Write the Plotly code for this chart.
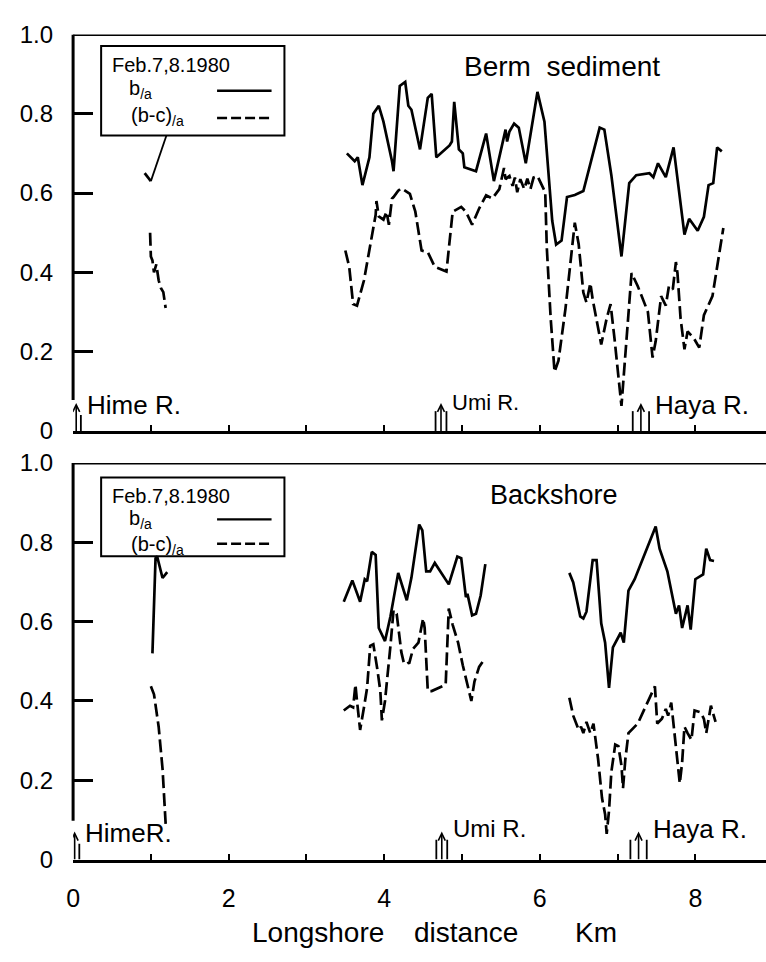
import plotly.graph_objects as go

# ---------------- data (longshore distance km, ratio) ----------------
# Berm sediment
berm_ba_x1 = [0.92, 0.96, 1.00]
berm_ba_y1 = [0.65, 0.64, 0.63]
berm_ba_x2 = [3.52, 3.57, 3.62, 3.66, 3.72, 3.81, 3.86, 3.93, 3.99, 4.10, 4.12, 4.20, 4.27, 4.31, 4.35,
              4.46, 4.56, 4.61, 4.67, 4.84, 4.87, 4.90, 4.96, 5.01, 5.03, 5.18, 5.31, 5.41, 5.56, 5.58,
              5.61, 5.67, 5.73, 5.82, 5.97, 6.06, 6.16, 6.21, 6.28, 6.35, 6.45, 6.56, 6.67, 6.77, 6.83,
              6.92, 7.05, 7.15, 7.24, 7.41, 7.46, 7.52, 7.62, 7.72, 7.86, 7.92, 8.03, 8.11, 8.17, 8.23,
              8.28, 8.34]
berm_ba_y2 = [0.70, 0.69, 0.68, 0.69, 0.62, 0.69, 0.80, 0.82, 0.78, 0.68, 0.655, 0.87, 0.88, 0.82, 0.81,
              0.71, 0.84, 0.85, 0.69, 0.72, 0.73, 0.83, 0.71, 0.70, 0.665, 0.655, 0.75, 0.63, 0.76, 0.73,
              0.755, 0.775, 0.765, 0.675, 0.855, 0.78, 0.53, 0.47, 0.48, 0.59, 0.595, 0.605, 0.69, 0.765, 0.76,
              0.645, 0.44, 0.625, 0.645, 0.65, 0.64, 0.675, 0.64, 0.715, 0.495, 0.535, 0.505, 0.54, 0.62, 0.625,
              0.715, 0.705]
berm_bca_x1 = [0.99, 1.00, 1.02, 1.04, 1.07, 1.10, 1.13, 1.16, 1.19]
berm_bca_y1 = [0.50, 0.44, 0.43, 0.40, 0.42, 0.38, 0.36, 0.35, 0.31]
berm_bca_x2 = [3.50, 3.55, 3.60, 3.65, 3.74, 3.82, 3.89, 3.90, 3.93, 3.99, 4.03, 4.06, 4.10, 4.12, 4.18,
               4.22, 4.33, 4.40, 4.48, 4.56, 4.65, 4.80, 4.84, 4.88, 4.99, 5.05, 5.13, 5.22, 5.31, 5.39,
               5.48, 5.54, 5.56, 5.61, 5.65, 5.68, 5.71, 5.75, 5.80, 5.84, 5.88, 5.92, 5.97, 6.01, 6.07,
               6.09, 6.14, 6.19, 6.24, 6.33, 6.45, 6.50, 6.56, 6.60, 6.65, 6.68, 6.73, 6.79, 6.86, 6.91,
               6.96, 7.03, 7.05, 7.11, 7.18, 7.26, 7.39, 7.45, 7.49, 7.56, 7.62, 7.66, 7.71, 7.75, 7.77,
               7.81, 7.86, 7.90, 7.98, 8.05, 8.11, 8.22, 8.36]
berm_bca_y2 = [0.455, 0.414, 0.32, 0.316, 0.38, 0.471, 0.545, 0.58, 0.541, 0.533, 0.553, 0.52, 0.586, 0.59, 0.606,
               0.612, 0.598, 0.553, 0.455, 0.451, 0.414, 0.402, 0.479, 0.553, 0.565, 0.553, 0.52, 0.561, 0.594, 0.586,
               0.61, 0.663, 0.635, 0.643, 0.618, 0.639, 0.602, 0.635, 0.61, 0.636, 0.61, 0.639, 0.643, 0.627, 0.602,
               0.463, 0.284, 0.149, 0.177, 0.308, 0.525, 0.471, 0.349, 0.324, 0.373, 0.332, 0.284, 0.218, 0.284, 0.32,
               0.234, 0.112, 0.063, 0.218, 0.398, 0.365, 0.30, 0.185, 0.226, 0.34, 0.316, 0.365, 0.357, 0.426, 0.398,
               0.284, 0.206, 0.251, 0.234, 0.21, 0.292, 0.34, 0.512]

# Backshore
back_ba_x1 = [1.02, 1.04, 1.06, 1.08, 1.15, 1.21]
back_ba_y1 = [0.52, 0.66, 0.76, 0.765, 0.71, 0.725]
back_ba_x2 = [3.48, 3.59, 3.69, 3.75, 3.78, 3.84, 3.89, 3.93, 4.01, 4.08, 4.18, 4.29, 4.35, 4.42, 4.45,
              4.49, 4.54, 4.59, 4.65, 4.83, 4.94, 4.99, 5.05, 5.07, 5.13, 5.18, 5.24, 5.30]
back_ba_y2 = [0.65, 0.704, 0.65, 0.707, 0.702, 0.776, 0.768, 0.584, 0.551, 0.613, 0.723, 0.654, 0.711, 0.81, 0.845,
              0.83, 0.727, 0.727, 0.748, 0.694, 0.764, 0.76, 0.662, 0.67, 0.616, 0.62, 0.666, 0.745]
back_ba_x3 = [6.38, 6.43, 6.52, 6.56, 6.60, 6.68, 6.73, 6.79, 6.84, 6.89, 6.94, 7.00, 7.04, 7.08, 7.14,
              7.22, 7.49, 7.54, 7.64, 7.75, 7.79, 7.83, 7.90, 7.94, 8.00, 8.10, 8.14, 8.19, 8.24]
back_ba_y3 = [0.723, 0.699, 0.613, 0.608, 0.625, 0.755, 0.755, 0.596, 0.547, 0.433, 0.535, 0.559, 0.572, 0.547, 0.678,
              0.707, 0.84, 0.784, 0.727, 0.62, 0.641, 0.584, 0.641, 0.58, 0.707, 0.719, 0.784, 0.755, 0.753]
back_bca_x1 = [1.00, 1.04, 1.10, 1.15, 1.19]
back_bca_y1 = [0.437, 0.417, 0.335, 0.229, 0.09]
back_bca_x2 = [3.48, 3.56, 3.60, 3.63, 3.65, 3.69, 3.74, 3.78, 3.82, 3.86, 3.91, 3.95, 3.97, 4.01, 4.08,
               4.12, 4.16, 4.22, 4.25, 4.29, 4.32, 4.37, 4.44, 4.50, 4.52, 4.56, 4.61, 4.73, 4.79, 4.83,
               4.88, 4.95, 5.01, 5.12, 5.16, 5.22, 5.27]
back_bca_y2 = [0.376, 0.388, 0.384, 0.441, 0.40, 0.327, 0.384, 0.433, 0.539, 0.543, 0.482, 0.425, 0.351, 0.40, 0.539,
               0.629, 0.62, 0.523, 0.498, 0.502, 0.494, 0.531, 0.547, 0.608, 0.584, 0.425, 0.425, 0.437, 0.441, 0.633,
               0.592, 0.547, 0.49, 0.40, 0.449, 0.486, 0.50]
back_bca_x3 = [6.38, 6.43, 6.50, 6.53, 6.56, 6.60, 6.65, 6.69, 6.75, 6.80, 6.84, 6.86, 6.89, 6.92, 6.97,
               7.01, 7.05, 7.07, 7.10, 7.14, 7.26, 7.48, 7.51, 7.57, 7.62, 7.65, 7.69, 7.75, 7.80, 7.83,
               7.86, 7.90, 7.95, 7.99, 8.07, 8.11, 8.14, 8.20, 8.26]
back_bca_y3 = [0.408, 0.363, 0.327, 0.335, 0.319, 0.347, 0.319, 0.343, 0.253, 0.155, 0.114, 0.065, 0.123, 0.221, 0.29,
               0.286, 0.237, 0.18, 0.253, 0.319, 0.343, 0.437, 0.343, 0.355, 0.38, 0.363, 0.396, 0.277, 0.192, 0.245,
               0.335, 0.319, 0.302, 0.376, 0.371, 0.355, 0.319, 0.388, 0.347]

# Rivers (km)
river_names = ["Hime R.", "Umi R.", "Haya R."]
river_names_bottom = ["HimeR.", "Umi R.", "Haya R."]
river_km_top = [0.04, 4.73, 7.30]
river_km_bottom = [0.02, 4.74, 7.27]

y_tickvals = [0, 0.2, 0.4, 0.6, 0.8, 1.0]
y_ticktext = ["0", "0.2", "0.4", "0.6", "0.8", "1.0"]
x_tickvals = [0, 2, 4, 6, 8]
x_ticktext = ["0", "2", "4", "6", "8"]

# ---------------- figure ----------------
W, H = 766, 962
FONT = "Liberation Sans, Arial, sans-serif"
K = "black"


def px(x):
    return x / W


def py(y):
    return 1 - y / H


fig = go.Figure()
DASH = "13px,5px"


def add(x, y, dash, xa, ya):
    fig.add_trace(go.Scatter(x=x, y=y, mode="lines", xaxis=xa, yaxis=ya,
                             line=dict(color=K, width=2.7, dash=dash),
                             showlegend=False, hoverinfo="skip"))


add(berm_ba_x1, berm_ba_y1, "solid", "x", "y")
add(berm_ba_x2, berm_ba_y2, "solid", "x", "y")
add(berm_bca_x1, berm_bca_y1, DASH, "x", "y")
add(berm_bca_x2, berm_bca_y2, DASH, "x", "y")
add(back_ba_x1, back_ba_y1, "solid", "x2", "y2")
add(back_ba_x2, back_ba_y2, "solid", "x2", "y2")
add(back_ba_x3, back_ba_y3, "solid", "x2", "y2")
add(back_bca_x1, back_bca_y1, DASH, "x2", "y2")
add(back_bca_x2, back_bca_y2, DASH, "x2", "y2")
add(back_bca_x3, back_bca_y3, DASH, "x2", "y2")

X0 = 66.7
KMPX = 78.5
xr = [0, (W - X0) / KMPX]
xdom = [X0 / W, 1.0]

xcommon = dict(domain=xdom, range=xr, showgrid=False, zeroline=False, showline=True,
               linecolor=K, linewidth=3, ticks="inside", ticklen=6, tickwidth=2, tickcolor=K,
               tickvals=x_tickvals, ticktext=x_ticktext,
               minor=dict(dtick=1, tick0=0, ticks="inside", ticklen=6, tickwidth=2, tickcolor=K))
ycommon = dict(range=[0, 1], showgrid=False, zeroline=False, showline=False,
               ticks="inside", ticklen=20, tickwidth=2.5, tickcolor=K,
               tickvals=y_tickvals, ticktext=y_ticktext, ticklabelstandoff=19,
               tickfont=dict(family=FONT, size=24, color=K))

fig.update_layout(
    width=W, height=H, margin=dict(l=0, r=0, t=0, b=0),
    paper_bgcolor="white", plot_bgcolor="white", showlegend=False,
    xaxis=dict(anchor="y", showticklabels=False, **xcommon),
    yaxis=dict(anchor="x", domain=[py(429), py(21)], **ycommon),
    xaxis2=dict(anchor="y2", showticklabels=True, ticklabelstandoff=14,
                tickfont=dict(family=FONT, size=25, color=K), **xcommon),
    yaxis2=dict(anchor="x2", domain=[py(870), py(462)], **ycommon),
)

shapes = []
annots = []
# frames: left axis line (with gap at bottom) and top line
for xa, ya, ybot in (("x", "y", 0.078), ("x2", "y2", 0.098)):
    shapes.append(dict(type="line", xref=xa + " domain", yref=ya, x0=0, x1=0, y0=ybot, y1=1,
                       line=dict(color=K, width=3)))
    shapes.append(dict(type="line", xref=xa + " domain", yref=ya, x0=0, x1=1, y0=1, y1=1,
                       line=dict(color=K, width=3)))

# river markers (box lines + arrow) and names
half = [0.06, 0.07, 0.105]
label_sizes_top = [26, 22, 26]
label_sizes_bot = [26, 24, 26]
for panel, kms, names, ty, sizes in (("", river_km_top, river_names, [0.066, 0.071, 0.066], label_sizes_top),
                                      ("2", river_km_bottom, river_names_bottom, [0.066, 0.078, 0.078], label_sizes_bot)):
    xa, ya = "x" + panel, "y" + panel
    for i, (km, name) in enumerate(zip(kms, names)):
        sides = (-1, 1) if i > 0 else (1,)
        for s in sides:
            shapes.append(dict(type="line", xref=xa, yref=ya, x0=km + s * half[i], x1=km + s * half[i],
                               y0=0, y1=0.05 if i > 0 else 0.04, line=dict(color=K, width=1.8)))
        # arrow shaft and head
        shapes.append(dict(type="line", xref=xa, yref=ya, x0=km, x1=km, y0=0, y1=0.063,
                           line=dict(color=K, width=1.6)))
        shapes.append(dict(type="path", xref=xa, yref=ya,
                           path=f"M {km - 0.045},{0.048} L {km},{0.066} L {km + 0.045},{0.048}",
                           line=dict(color=K, width=1.6)))
        annots.append(dict(x=km + half[i] + 0.05, y=ty[i], xref=xa, yref=ya,
                           text=name, showarrow=False, xanchor="left", yanchor="middle",
                           font=dict(family=FONT, size=sizes[i], color=K)))

# leader line from legend box to first b/a segment (top)
shapes.append(dict(type="line", xref="x", yref="y", x0=berm_ba_x1[-1], y0=berm_ba_y1[-1],
                   x1=1.2, y1=0.745, line=dict(color=K, width=1.8)))

# legend boxes
for top, rows in ((33, (125, 52, 78, 105, 79, 107)), (477, (558, 496, 520, 547, 520, 545))):
    bot, yf, yb, ybc, ysol, ydash = rows
    shapes.append(dict(type="rect", xref="paper", yref="paper", x0=px(95), x1=px(280),
                       y0=py(bot), y1=py(top), line=dict(color=K, width=2), fillcolor="white",
                       layer="below"))
    shapes.append(dict(type="line", xref="paper", yref="paper", x0=px(212), x1=px(267),
                       y0=py(ysol), y1=py(ysol), line=dict(color=K, width=2.4)))
    shapes.append(dict(type="line", xref="paper", yref="paper", x0=px(212), x1=px(267),
                       y0=py(ydash), y1=py(ydash), line=dict(color=K, width=2.4, dash="10px,4px")))
    annots.append(dict(x=px(104), y=py(yf), xref="paper", yref="paper", text="Feb.7,8.1980",
                       showarrow=False, xanchor="left", yanchor="middle",
                       font=dict(family=FONT, size=20, color=K)))
    annots.append(dict(x=px(121), y=py(yb), xref="paper", yref="paper", text="b<sub>/a</sub>",
                       showarrow=False, xanchor="left", yanchor="middle",
                       font=dict(family=FONT, size=20, color=K)))
    annots.append(dict(x=px(123), y=py(ybc), xref="paper", yref="paper", text="(b-c)<sub>/a</sub>",
                       showarrow=False, xanchor="left", yanchor="middle",
                       font=dict(family=FONT, size=20, color=K)))

# panel titles
annots.append(dict(x=px(560), y=py(54), xref="paper", yref="paper", text="Berm\u00a0\u00a0sediment",
                   showarrow=False, xanchor="center", yanchor="middle",
                   font=dict(family=FONT, size=28, color=K)))
annots.append(dict(x=px(552), y=py(495), xref="paper", yref="paper", text="Backshore",
                   showarrow=False, xanchor="center", yanchor="middle",
                   font=dict(family=FONT, size=27, color=K)))

# x axis title words
for word, cx in (("Longshore", 314), ("distance", 463), ("Km", 594)):
    annots.append(dict(x=px(cx), y=py(945), xref="paper", yref="paper", text=word,
                       showarrow=False, xanchor="center", yanchor="middle",
                       font=dict(family=FONT, size=28, color=K)))

fig.update_layout(shapes=shapes, annotations=annots)
fig.write_html("out.html")
